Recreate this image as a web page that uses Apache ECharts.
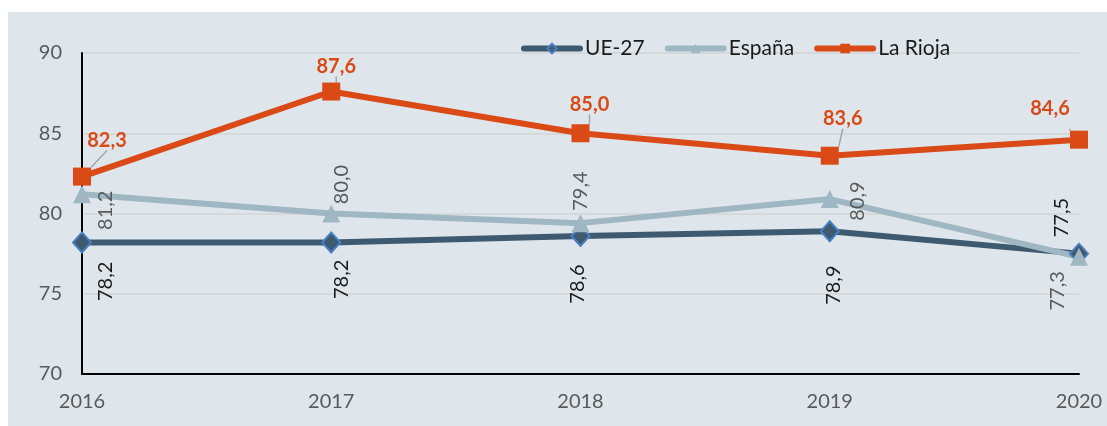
<!DOCTYPE html>
<html>
<head>
    <meta charset="utf-8">
    <title>UE-27 / España / La Rioja</title>
    <script src="https://cdn.jsdelivr.net/npm/echarts@6/dist/echarts.min.js"></script>
    <style>
        html, body { margin: 0; padding: 0; background: #ffffff; }
        #chart { position: absolute; left: 8px; top: 12px; width: 1099px; height: 414px; background: #dfe6eb; }
    </style>
</head>
<body>
<div id="chart"></div>

<script>
    // datos
    var years = ['2016', '2017', '2018', '2019', '2020'];
    var ue27 = [78.2, 78.2, 78.6, 78.9, 77.5];
    var espana = [81.2, 80.0, 79.4, 80.9, 77.3];
    var rioja = [82.3, 87.6, 85.0, 83.6, 84.6];
    var yTicks = [70, 75, 80, 85, 90];

    // desplazamiento de etiquetas en pantalla [dx, dy] desde el punto
    var ueShift = [[24, 39], [10, 37], [-3, 48], [4, 54], [-17, -36]];
    var esShift = [[24, 16], [10, -29], [0, -32], [28, 2], [-21, 34]];
    var riShift = [[25, -36], [5, -25], [9, -29], [13, -37], [-29, -31]];

    var FONT = 'Lato';

    function fmt(p) {
        return p.value.toFixed(1).replace('.', ',');
    }

    // etiqueta girada 90: el offset gira con el texto
    function rotItems(values, shifts) {
        return values.map(function (v, i) {
            return { value: v, label: { offset: [-shifts[i][1], shifts[i][0]] } };
        });
    }
    function flatItems(values, shifts) {
        return values.map(function (v, i) {
            return { value: v, label: { offset: [shifts[i][0], shifts[i][1]] } };
        });
    }

    var chart = echarts.init(document.getElementById('chart'));
    chart.setOption({
        animation: false,
        backgroundColor: '#dfe6eb',
        textStyle: { fontFamily: FONT },
        grid: { left: 74, right: 28, top: 41, bottom: 52 },
        legend: {
            left: 508,
            top: 21,
            itemWidth: 56,
            itemHeight: 12,
            itemGap: 20,
            lineStyle: { width: 6, cap: 'round' },
            textStyle: { fontFamily: FONT, fontSize: 21, color: '#1a1a1a' },
            data: ['UE-27', 'España', 'La Rioja']
        },
        xAxis: {
            type: 'category',
            data: years,
            boundaryGap: false,
            axisLine: { lineStyle: { color: '#000000', width: 2 } },
            axisTick: { show: false },
            axisLabel: { fontFamily: FONT, fontSize: 20, color: '#595959', margin: 18 }
        },
        yAxis: {
            type: 'value',
            min: yTicks[0],
            max: yTicks[yTicks.length - 1],
            interval: 5,
            axisLine: { show: true, lineStyle: { color: '#000000', width: 2 } },
            axisTick: { show: false },
            axisLabel: { fontFamily: FONT, fontSize: 20, color: '#595959', margin: 20 },
            splitLine: { lineStyle: { color: '#d3d3d3', width: 1.5 } }
        },
        series: [
            {
                name: 'UE-27',
                type: 'line',
                data: rotItems(ue27, ueShift),
                symbol: 'diamond',
                symbolSize: [18, 20],
                lineStyle: { color: '#3e5a70', width: 6 },
                itemStyle: { color: '#3e5a70', borderColor: '#4a7ec4', borderWidth: 2 },
                label: {
                    show: true, position: 'inside', rotate: 90, formatter: fmt,
                    fontFamily: FONT, fontSize: 20, color: '#1a1a1a'
                }
            },
            {
                name: 'España',
                type: 'line',
                data: rotItems(espana, esShift),
                symbol: 'triangle',
                symbolSize: 18,
                lineStyle: { color: '#9eb7c3', width: 6 },
                itemStyle: { color: '#9eb7c3' },
                label: {
                    show: true, position: 'inside', rotate: 90, formatter: fmt,
                    fontFamily: FONT, fontSize: 20, color: '#595959'
                }
            },
            {
                name: 'La Rioja',
                type: 'line',
                data: flatItems(rioja, riShift),
                symbol: 'rect',
                symbolSize: 18,
                lineStyle: { color: '#da4a17', width: 6 },
                itemStyle: { color: '#da4a17' },
                label: {
                    show: true, position: 'inside', formatter: fmt,
                    fontFamily: FONT, fontSize: 20, fontWeight: 'bold', color: '#da4a17'
                },
                labelLine: { show: true, lineStyle: { color: '#a6a6a6', width: 1.5 } }
            }
        ]
    });
</script>
</body>
</html>
